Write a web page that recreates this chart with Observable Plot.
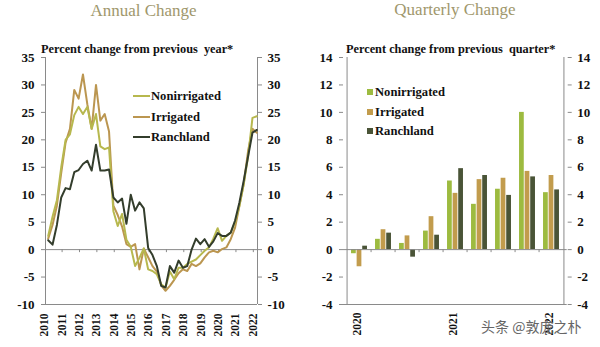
<!DOCTYPE html>
<html><head><meta charset="utf-8">
<script src="https://cdn.jsdelivr.net/npm/d3@7"></script>
<script src="https://cdn.jsdelivr.net/npm/@observablehq/plot@0.6"></script>
<style>
body{margin:0;background:#fff;}
#wrap{position:relative;width:600px;height:347px;overflow:hidden;font-family:"Liberation Serif","Times New Roman",serif;}
#wrap svg{position:absolute;top:0;}
.abs{position:absolute;white-space:nowrap;line-height:1;}
.title{font-size:17px;color:#a0976c;width:200px;text-align:center;}
.sub{font-size:12.3px;font-weight:bold;color:#111;}
.leg{font-size:12.6px;font-weight:bold;color:#111;display:flex;align-items:center;}
.ln{display:inline-block;width:17px;height:2px;margin-right:1px;}
.sq{display:inline-block;width:6px;height:6px;margin-right:2px;}
.wm{font-family:"Noto Sans CJK SC",sans-serif;font-size:14px;color:#666;}
</style>
</head><body><div id="wrap"></div>
<script>
// ---------- Annual change (quarterly observations, 2010 Q1 – 2022 Q1) ----------
const years = [2010,2011,2012,2013,2014,2015,2016,2017,2018,2019,2020,2021,2022];
const annualTimes = d3.range(49).map(i => 2010 + i / 4);
const annualNonirrigated = [2.5,6,9,15,20,21,24.5,26,24.7,26,22,24.7,18.8,18.3,18.6,7.0,4.3,6.5,1.8,0.5,-3.0,-1.5,0.2,-3.6,-3.9,-4.5,-6.3,-6.9,-4.0,-5.4,-3.3,-3.3,-2.6,-2.2,-1.8,-1.0,-0.2,0.4,2.0,3.9,1.6,2.5,3.1,5.0,8.0,12.0,17.0,24.0,24.3];
const annualIrrigated = [2.0,4.5,8,14,19.5,22,29.1,27.5,31.9,26.5,22,30,23.5,24.7,21.5,8.0,6.3,4.2,1.0,0.5,1.0,-3.6,0.2,-1.4,-3.0,-4.0,-6.5,-7.5,-6.6,-5.5,-4.3,-3.6,-3.9,-2.6,-3.0,-2.5,-1.4,-0.5,-0.2,-0.5,0.1,0.4,1.9,4.0,8.0,12.0,18.0,22.0,21.3];
const annualRanchland = [1.7,0.9,4.5,9.5,11.2,11.0,14.1,14.5,15.6,16.2,14.4,19.1,14.4,14.4,14.6,9.5,8.6,9.3,4.7,10.0,7.1,8.6,7.5,0.3,-1.0,-3.0,-6.6,-6.9,-3.0,-4.2,-2.0,-3.3,-3.0,0.0,2.0,1.0,1.9,0.5,1.5,3.0,2.5,2.5,3.1,5.3,8.6,12.6,17.0,21.3,21.8];
const annualYTicks = [-10,-5,0,5,10,15,20,25,30,35];
const annualXDomain = [2009.845, 2022.04];
const annualZeroTicks = years.slice(0, 12).map(y => y + 0.8);

// ---------- Quarterly change ----------
const quarters = ["2020 Q1","2020 Q2","2020 Q3","2020 Q4","2021 Q1","2021 Q2","2021 Q3","2021 Q4","2022 Q1"];
const quarterLabels = ["2020","","","","2021","","","","2022"];
const qNonirrigated = [-0.3,0.75,0.45,1.35,5.0,3.3,4.4,10.0,4.15];
const qIrrigated = [-1.25,1.45,1.0,2.4,4.1,5.1,5.2,5.7,5.4];
const qRanchland = [0.25,1.2,-0.55,1.05,5.9,5.4,3.95,5.3,4.35];
const qYTicks = [-4,-2,0,2,4,6,8,10,12,14];

const seriesNames = ["Nonirrigated","Irrigated","Ranchland"];
const lineColors = ["#b7b84e","#bb9650","#333d2c"];
const barColors = ["#9dbb40","#c29c4d","#4a5437"];
const axisGray = "#8a8a8a";
const font = '"Liberation Serif","Times New Roman",serif';
const plain = d => `${d}`;

const annualRows = annualTimes.map((t, i) => ({t, n: annualNonirrigated[i], ir: annualIrrigated[i], r: annualRanchland[i]}));
const qRows = quarters.map((q, i) => ({q, label: quarterLabels[i], n: qNonirrigated[i], ir: qIrrigated[i], r: qRanchland[i]}));

const wrap = document.getElementById("wrap");

const left = Plot.plot({
  width: 300, height: 347,
  marginLeft: 45, marginRight: 43, marginTop: 57, marginBottom: 43,
  x: {domain: annualXDomain, axis: null},
  y: {domain: [-10, 35], axis: null},
  style: {fontFamily: font, fontSize: "13px", fontWeight: "bold", color: "#111", background: "transparent", overflow: "visible"},
  marks: [
    Plot.ruleY([0], {stroke: axisGray}),
    Plot.ruleY([-10], {stroke: axisGray}),
    Plot.ruleX(annualXDomain, {stroke: axisGray}),
    Plot.ruleX(annualZeroTicks, {y1: 0, y2: -0.55, stroke: axisGray}),
    Plot.axisY(annualYTicks, {anchor: "left", tickSize: 4, tickPadding: 7, stroke: axisGray, fill: "#111", label: null, tickFormat: plain, fontWeight: "bold"}),
    Plot.axisY(annualYTicks, {anchor: "right", tickSize: 4, tickPadding: 6, stroke: axisGray, fill: "#111", label: null, tickFormat: plain, fontWeight: "bold"}),
    Plot.text(years, {x: d => d, text: plain, frameAnchor: "bottom", rotate: -90, textAnchor: "end", dy: 9, fontSize: 11.5, fontWeight: "bold", fill: "#111"}),
    Plot.line(annualRows, {x: "t", y: "ir", stroke: lineColors[1], strokeWidth: 2}),
    Plot.line(annualRows, {x: "t", y: "n", stroke: lineColors[0], strokeWidth: 2}),
    Plot.line(annualRows, {x: "t", y: "r", stroke: lineColors[2], strokeWidth: 2})
  ]
});
left.style.left = "0px";
wrap.appendChild(left);

const rW = 300, rML = 43, rMR = 33.3;
const bw = (rW - rML - rMR) / quarters.length;
const barW = 5.6;
const inset = (bw - barW) / 2;
const right = Plot.plot({
  width: rW, height: 347,
  marginLeft: rML, marginRight: rMR, marginTop: 57, marginBottom: 43,
  x: {domain: quarters, padding: 0, axis: null},
  y: {domain: [-4, 14], axis: null},
  style: {fontFamily: font, fontSize: "13px", fontWeight: "bold", color: "#111", background: "transparent", overflow: "visible"},
  marks: [
    Plot.barY(qRows, {x: "q", y: "n", fill: barColors[0], dx: -barW, insetLeft: inset, insetRight: inset}),
    Plot.barY(qRows, {x: "q", y: "ir", fill: barColors[1], insetLeft: inset, insetRight: inset}),
    Plot.barY(qRows, {x: "q", y: "r", fill: barColors[2], dx: barW, insetLeft: inset, insetRight: inset}),
    Plot.ruleY([0], {stroke: axisGray}),
    Plot.ruleY([-4], {stroke: axisGray}),
    Plot.ruleX(quarters.slice(1), {x: d => d, y1: 0, y2: -0.22, dx: -bw / 2, stroke: axisGray}),
    Plot.ruleX([quarters[0]], {x: d => d, dx: -bw / 2, stroke: axisGray}),
    Plot.ruleX([quarters[quarters.length - 1]], {x: d => d, dx: bw / 2, stroke: axisGray}),
    Plot.axisY(qYTicks, {anchor: "left", tickSize: 4, tickPadding: 7, stroke: axisGray, fill: "#111", label: null, tickFormat: plain, fontWeight: "bold"}),
    Plot.axisY(qYTicks, {anchor: "right", tickSize: 4, tickPadding: 6, stroke: axisGray, fill: "#111", label: null, tickFormat: plain, fontWeight: "bold"}),
    Plot.text(qRows.filter(d => d.label), {x: "q", text: "label", frameAnchor: "bottom", rotate: -90, textAnchor: "end", dy: 8, dx: 1, fontSize: 11.5, fontWeight: "bold", fill: "#111"})
  ]
});
right.style.left = "300px";
wrap.appendChild(right);

function addDiv(cls, html, left, top) {
  const d = document.createElement("div");
  d.className = "abs " + cls;
  d.innerHTML = html;
  d.style.left = left + "px";
  d.style.top = top + "px";
  wrap.appendChild(d);
  return d;
}
addDiv("title", "Annual Change", 43.5, 2);
addDiv("title", "Quarterly Change", 355, 0.5);
addDiv("sub", "Percent change from previous&nbsp; year*", 41, 42.8);
addDiv("sub", "Percent change from previous&nbsp; quarter*", 346, 42.8);

const legTopsL = [90, 110.5, 131];
seriesNames.forEach((s, i) => addDiv("leg", `<span class="ln" style="background:${lineColors[i]}"></span>${s}`, 133, legTopsL[i]));
const legTopsR = [85.5, 105.5, 125];
seriesNames.forEach((s, i) => addDiv("leg", `<span class="sq" style="background:${barColors[i]}"></span>${s}`, 367, legTopsR[i]));

addDiv("wm", "头条 @敦庞之朴", 481, 319);
</script>
</body></html>
